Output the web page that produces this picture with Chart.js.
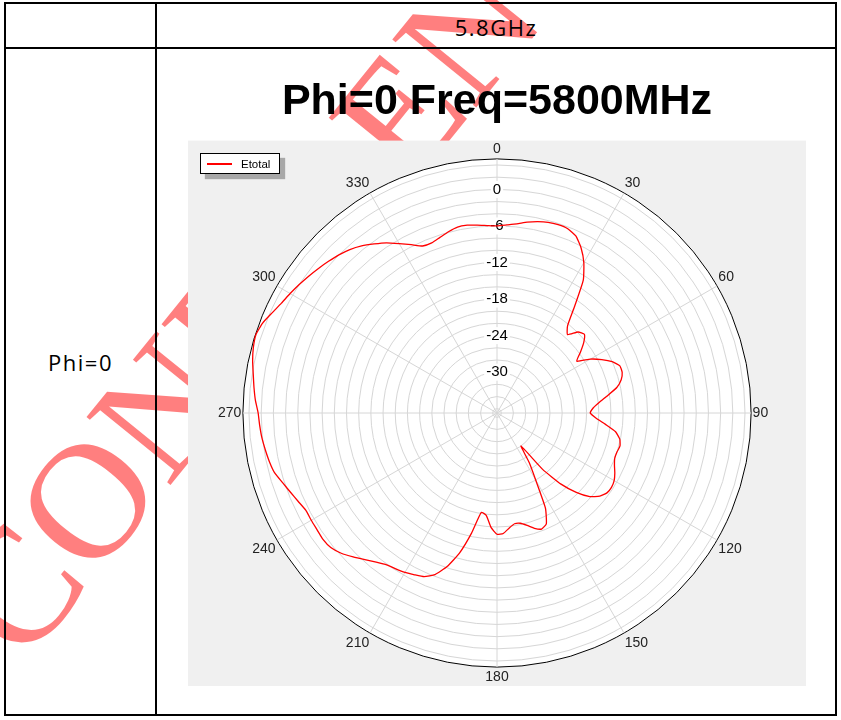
<!DOCTYPE html>
<html>
<head>
<meta charset="utf-8">
<script src="https://cdn.jsdelivr.net/npm/chart.js@4.4.1/dist/chart.umd.min.js"></script>
<style>
  html, body { margin: 0; padding: 0; background: #fff; }
  body { width: 841px; height: 720px; position: relative; overflow: hidden; font-family: "Open Sans", "Noto Sans", sans-serif; }
  .watermark { position: absolute; left: -84px; top: 580px; transform-origin: 0 0; transform: rotate(-51deg);
    font-family: "Liberation Serif", "DejaVu Serif", serif; font-size: 165px; line-height: 1; color: rgba(255, 0, 0, 0.5); white-space: nowrap; }
  .line { position: absolute; background: #000; }
  .cell-text { position: absolute; font-size: 22px; letter-spacing: 1.5px; color: #000; text-align: center; white-space: nowrap; }
  #chartBox { position: absolute; left: 157px; top: 50px; width: 678px; height: 664px; }
  #legend { position: absolute; left: 200px; top: 153px; width: 78px; height: 19px; background: #fff; border: 1px solid #000;
    box-shadow: 5px 5px 1px #a8a8a8; font: 11.5px "Liberation Sans", Arial, sans-serif; display: flex; align-items: center; }
  #legend .swatch { display: block; width: 25px; height: 2px; margin: 0 9px 0 6px; }
</style>
</head>
<body>
<div class="watermark">CONFIDENTIAL</div>

<div class="line" style="left:4px; top:2px; width:833px; height:2px;"></div>
<div class="line" style="left:4px; top:714px; width:833px; height:2px;"></div>
<div class="line" style="left:4px; top:2px; width:2px; height:714px;"></div>
<div class="line" style="left:835px; top:2px; width:2px; height:714px;"></div>
<div class="line" style="left:155px; top:2px; width:2px; height:714px;"></div>
<div class="line" style="left:4px; top:47px; width:833px; height:2px;"></div>

<div class="cell-text" style="left:157px; width:678px; top:12px;">5.8GHz</div>
<div class="cell-text" style="left:6px; width:149px; top:347px;">Phi=0</div>

<div id="chartBox"><canvas id="polarChart"></canvas></div>
<div id="legend"></div>

<script>
// Etotal (dB), one value every 3 degrees from 0 to 357
const ANGLE_STEP = 3;
const ETOTAL_DB = [
  -6.0, -5.8, -5.5, -5.0, -4.6, -4.3, -4.2, -4.3, -4.9, -6.3,   // 0 - 27
  -8.2, -10.7, -15.0, -18.3, -19.4, -17.9, -17.4, -18.4, -19.8, -21.1, // 30 - 57
  -19.0, -17.4, -16.0, -15.1, -15.1, -15.6, -16.6, -18.3, -19.8, -20.9, // 60 - 87
  -21.4, -20.4, -18.8, -17.0, -16.1, -15.8, -16.0, -16.0, -15.6, -15.0, // 90 - 117
  -14.5, -14.3, -14.4, -15.0, -16.2, -18.3, -21.0, -24.8, -30.0, -27.0, // 120 - 147
  -24.0, -19.2, -16.8, -16.3, -16.8, -17.6, -18.2, -18.3, -17.7, -16.9, // 150 - 177
  -16.8, -17.9, -19.8, -20.2, -16.5, -12.9, -10.2, -8.3, -7.3, -6.9,    // 180 - 207
  -6.5, -6.2, -5.9, -5.2, -4.3, -3.3, -2.3, -1.6, -1.4, -1.5,           // 210 - 237
  -1.5, -1.5, -1.0, -0.4, 0.3, 1.1, 1.5, 1.8, 2.1, 2.3,                 // 240 - 267
  2.5, 3.0, 3.4, 3.8, 4.3, 4.7, 4.9, 4.5, 3.7, 3.0,                     // 270 - 297
  2.5, 2.0, 1.5, 1.0, 0.5, 0.0, -0.6, -1.4, -2.4, -3.4,                 // 300 - 327
  -4.6, -5.7, -6.7, -6.8, -6.4, -5.9, -5.5, -5.5, -5.7, -5.9            // 330 - 357
];
const ANGLE_LABELS = [0, 30, 60, 90, 120, 150, 180, 210, 240, 270, 300, 330];
const RING_DB = [-36, -34, -32, -30, -28, -26, -24, -22, -20, -18, -16, -14, -12, -10, -8, -6, -4, -2, 0, 2, 4, 5];
const TICK_LABELS = [0, -6, -12, -18, -24, -30];
const R_MIN = -36.7;
const R_MAX = 5;

const angles = ETOTAL_DB.map((_, i) => i * ANGLE_STEP);

Chart.defaults.font.family = '"Liberation Sans", Arial, sans-serif';

// grey plot panel behind the polar grid
const plotBackground = {
  id: 'plotBackground',
  beforeDraw(chart) {
    const { ctx, chartArea } = chart;
    ctx.save();
    ctx.fillStyle = '#f0f0f0';
    ctx.fillRect(chartArea.left, chartArea.top, chartArea.width, chartArea.height);
    ctx.restore();
  }
};

const chart = new Chart(document.getElementById('polarChart'), {
  type: 'radar',
  data: {
    labels: angles,
    datasets: [{
      label: 'Etotal',
      data: ETOTAL_DB,
      borderColor: '#ff0000',
      borderWidth: 1.3,
      pointRadius: 0,
      fill: false,
      tension: 0.15
    }]
  },
  options: {
    responsive: true,
    maintainAspectRatio: false,
    animation: false,
    layout: { padding: { left: 31, right: 29, bottom: 28, top: 0 } },
    plugins: {
      legend: { display: false },
      tooltip: { enabled: false },
      title: {
        display: true,
        text: 'Phi=0 Freq=5800MHz',
        color: '#000',
        font: { size: 43, weight: 'bold' },
        padding: { top: 26, bottom: 13 }
      }
    },
    scales: {
      r: {
        min: R_MIN,
        max: R_MAX,
        startAngle: 0,
        backgroundColor: '#fff',
        afterBuildTicks: (axis) => { axis.ticks = RING_DB.map(v => ({ value: v })); },
        grid: {
          circular: true,
          color: (c) => c.tick && c.tick.value === R_MAX ? '#000' : '#d6d6d6',
          lineWidth: 1
        },
        angleLines: {
          color: (c) => c.label !== '' ? '#d6d6d6' : 'rgba(0,0,0,0)',
          lineWidth: 1
        },
        pointLabels: {
          callback: (label) => ANGLE_LABELS.includes(label) ? String(label) : '',
          color: '#222',
          font: { size: 14 },
          padding: -7
        },
        ticks: {
          callback: (v) => TICK_LABELS.includes(v) ? String(v) : '',
          color: '#000',
          font: { size: 15 },
          showLabelBackdrop: (c) => !!(c.tick && c.tick.label),
          backdropColor: '#fff',
          backdropPadding: { x: 2, y: 1 }
        }
      }
    }
  },
  plugins: [plotBackground]
});

// legend box drawn from the dataset itself
const legend = document.getElementById('legend');
chart.data.datasets.forEach(ds => {
  const sw = document.createElement('span');
  sw.className = 'swatch';
  sw.style.background = ds.borderColor;
  const tx = document.createElement('span');
  tx.textContent = ds.label;
  legend.appendChild(sw);
  legend.appendChild(tx);
});
</script>
</body>
</html>
